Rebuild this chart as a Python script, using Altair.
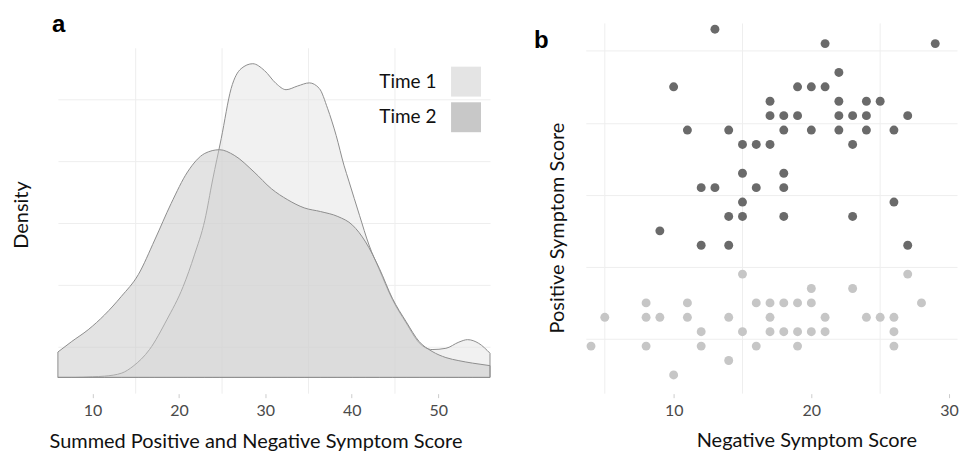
import altair as alt
import pandas as pd

# ---------------- Panel a: density curves ----------------
t1_x = [6, 8, 10, 11.4, 13.4, 14.7, 16.6, 18.6, 20.5, 21.8, 23.0, 23.9, 24.9, 26.05,
        27.2, 28.55, 29.9, 31.25, 32.4, 33.75, 35.1, 36.25, 37.2, 38.2, 39.1, 39.7,
        40.9, 42.0, 43.2, 44.7, 46.3, 47.8, 49.3, 50.9, 52.4, 53.4, 54.7, 56]
t1_d = [0, 0, 0.0001, 0.0002, 0.0007, 0.0018, 0.0045, 0.0093, 0.0147, 0.0198, 0.0254,
        0.0319, 0.0386, 0.0467, 0.0499, 0.0507, 0.0496, 0.0475, 0.0465, 0.0471, 0.0476,
        0.0467, 0.0435, 0.0391, 0.0343, 0.0316, 0.0262, 0.0214, 0.0174, 0.0126, 0.0088,
        0.0056, 0.0045, 0.0047, 0.0057, 0.0061, 0.0055, 0.0039]

t2_x = [6, 7.6, 9.5, 11.4, 13.35, 15.3, 17.2, 19.1, 21.0, 23.0, 24.7, 26.4, 28.7, 30.7,
        32.6, 34.5, 36.4, 38.4, 40.1, 41.6, 43.2, 44.7, 46.3, 47.8, 49.3, 50.9, 52.4,
        54.0, 56]
t2_d = [0.0041, 0.0058, 0.0077, 0.0101, 0.0131, 0.0166, 0.0222, 0.0281, 0.0332, 0.0362,
        0.0368, 0.0359, 0.0332, 0.0305, 0.0287, 0.0274, 0.0268, 0.0260, 0.0246, 0.0219,
        0.0176, 0.0128, 0.0090, 0.0058, 0.0042, 0.0032, 0.0027, 0.0023, 0.0019]

series_names = ["Time 1", "Time 2"]
series_fill = ["#e4e4e4", "#c8c8c8"]
a_ticks = [10, 20, 30, 40, 50]
a_vgrid = [15, 25, 35, 45]
a_hgrid = [0.005, 0.015, 0.025, 0.035, 0.045]

# ---------------- Panel b: scatter ----------------
neg = [13, 21, 29, 22, 10, 19, 20, 21, 17, 22, 24, 25,
       17, 18, 19, 22, 23, 24, 27, 11, 14, 18, 20, 22, 24, 26,
       15, 16, 17, 23, 15, 18, 12, 13, 16, 18, 15, 26,
       14, 15, 18, 23, 9, 12, 14, 27,
       15, 27, 20, 23, 8, 11, 16, 17, 18, 19, 20, 28,
       5, 8, 9, 11, 14, 17, 21, 24, 25, 26,
       12, 15, 17, 18, 19, 20, 21, 26,
       4, 8, 12, 16, 19, 26, 14, 10]
pos = [31, 30, 30, 28, 27, 27, 27, 27, 26, 26, 26, 26,
       25, 25, 25, 25, 25, 25, 25, 24, 24, 24, 24, 24, 24, 24,
       23, 23, 23, 23, 21, 21, 20, 20, 20, 20, 19, 19,
       18, 18, 18, 18, 17, 16, 16, 16,
       14, 14, 13, 13, 12, 12, 12, 12, 12, 12, 12, 12,
       11, 11, 11, 11, 11, 11, 11, 11, 11, 11,
       10, 10, 10, 10, 10, 10, 10, 10,
       9, 9, 9, 9, 9, 9, 8, 7]
b_ticks = [10, 20, 30]
b_vgrid = [5, 15, 25]
b_hgrid = [9.5, 14.5, 19.5, 24.5, 29.5]

FONT = "Lato"
GRID = "#eeeeee"
TICK = "#cccccc"
LAB = "#4a4a4a"
TXT = "#111111"

# ---------- panel a ----------
t1 = pd.DataFrame({"score": t1_x, "density": t1_d, "series": series_names[0]})
t2 = pd.DataFrame({"score": t2_x, "density": t2_d, "series": series_names[1]})

ax_a = alt.Axis(title="Summed Positive and Negative Symptom Score", values=a_ticks,
                grid=False, domain=False, tickColor=TICK, tickSize=4, labelColor=LAB,
                labelFontSize=16, labelFont=FONT, labelPadding=5, titleFont=FONT,
                titleFontSize=20, titleFontWeight="normal", titleColor=TXT,
                titleX=198, titleY=54, titleBaseline="alphabetic")
ay_a = alt.Axis(title="Density", values=a_hgrid, labels=False, ticks=False, domain=False,
                grid=True, gridColor=GRID, titleFont=FONT, titleFontSize=20,
                titleFontWeight="normal", titleColor=TXT, titleX=-30, titleY=191.5,
                titleBaseline="alphabetic", titleAngle=270)
xs_a = alt.Scale(domain=[6, 56], nice=False, zero=False)
ys_a = alt.Scale(domain=[-0.00263, 0.05721], nice=False, zero=False)
col_a = alt.Color("series:N", scale=alt.Scale(domain=series_names, range=series_fill),
                  legend=None)

vgrid_a = alt.Chart(pd.DataFrame({"score": a_vgrid})).mark_rule(
    color=GRID, strokeWidth=1).encode(
    x=alt.X("score:Q", scale=xs_a, axis=ax_a),
    y=alt.datum(0.0532), y2=alt.datum(-0.00263))

def area(df):
    return alt.Chart(df).mark_area(
        fillOpacity=0.5, stroke="#8e8e8e", strokeWidth=1, interpolate="monotone").encode(
        x=alt.X("score:Q", scale=xs_a, axis=ax_a),
        y=alt.Y("density:Q", scale=ys_a, axis=ay_a),
        color=col_a)

lab_a = alt.Chart(pd.DataFrame({"lab": ["a"]})).mark_text(
    font="Liberation Sans", fontWeight="bold", fontSize=24, align="left",
    baseline="alphabetic", color="black").encode(
    x=alt.value(-6), y=alt.value(9), text="lab:N")

plot_a = alt.layer(vgrid_a, area(t1), area(t2), lab_a)

# legend (inside, top right) built from the series names
leg_df = pd.DataFrame({"series": series_names})
leg_y = alt.Y("series:N", scale=alt.Scale(type="point", domain=series_names,
                                          range=[58.3, 94], padding=0), axis=None)
leg_sq = alt.Chart(leg_df).mark_square(size=900, opacity=1, filled=True).encode(
    x=alt.value(409), y=leg_y,
    color=alt.Color("series:N", scale=alt.Scale(domain=series_names, range=series_fill),
                    legend=None))
leg_tx = alt.Chart(leg_df).mark_text(font=FONT, fontSize=19, align="right",
                                     baseline="middle", color=TXT).encode(
    x=alt.value(379.3), y=leg_y, text="series:N")
legend_a = alt.layer(leg_sq, leg_tx)

panel_a = alt.layer(plot_a, legend_a).resolve_scale(y="independent").properties(
    width=433, height=371)

# ---------- panel b ----------
pts = pd.DataFrame({"neg": neg, "pos": pos})
pts["group"] = ["high" if p > 15 else "low" for p in pos]

ax_b = alt.Axis(title="Negative Symptom Score", values=b_ticks, grid=False, domain=False,
                tickColor=TICK, tickSize=4, labelColor=LAB, labelFontSize=16,
                labelFont=FONT, labelPadding=5, titleFont=FONT, titleFontSize=20,
                titleFontWeight="normal", titleColor=TXT, titleX=221, titleY=53,
                titleBaseline="alphabetic")
ay_b = alt.Axis(title="Positive Symptom Score", values=b_hgrid, labels=False, ticks=False,
                domain=False, grid=True, gridColor=GRID, titleFont=FONT, titleFontSize=20,
                titleFontWeight="normal", titleColor=TXT, titleX=-22, titleY=204.5,
                titleBaseline="alphabetic", titleAngle=270)
xs_b = alt.Scale(domain=[3.62, 30.58], nice=False, zero=False)
ys_b = alt.Scale(domain=[5.70, 31.40], nice=False, zero=False)

vgrid_b = alt.Chart(pd.DataFrame({"neg": b_vgrid})).mark_rule(
    color=GRID, strokeWidth=1).encode(
    x=alt.X("neg:Q", scale=xs_b, axis=ax_b),
    y=alt.datum(31.40), y2=alt.datum(5.70))

dots = alt.Chart(pts).mark_circle(size=80, opacity=1).encode(
    x=alt.X("neg:Q", scale=xs_b, axis=ax_b),
    y=alt.Y("pos:Q", scale=ys_b, axis=ay_b),
    color=alt.Color("group:N", scale=alt.Scale(domain=["high", "low"],
                                               range=["#6a6a6a", "#c6c6c6"]),
                    legend=None))

lab_b = alt.Chart(pd.DataFrame({"lab": ["b"]})).mark_text(
    font="Liberation Sans", fontWeight="bold", fontSize=24, align="left",
    baseline="alphabetic", color="black").encode(
    x=alt.value(-52), y=alt.value(25), text="lab:N")

panel_b = alt.layer(vgrid_b, dots, lab_b).properties(width=372, height=371)

chart = alt.hconcat(panel_a, panel_b, spacing=96, bounds="flush").resolve_scale(
    x="independent", y="independent", color="independent").properties(
    padding={"left": 4, "top": 5, "right": 0, "bottom": 0},
    background="white").configure_view(stroke=None)

chart.save("out.html", embed_options={"renderer": "svg", "actions": False})
